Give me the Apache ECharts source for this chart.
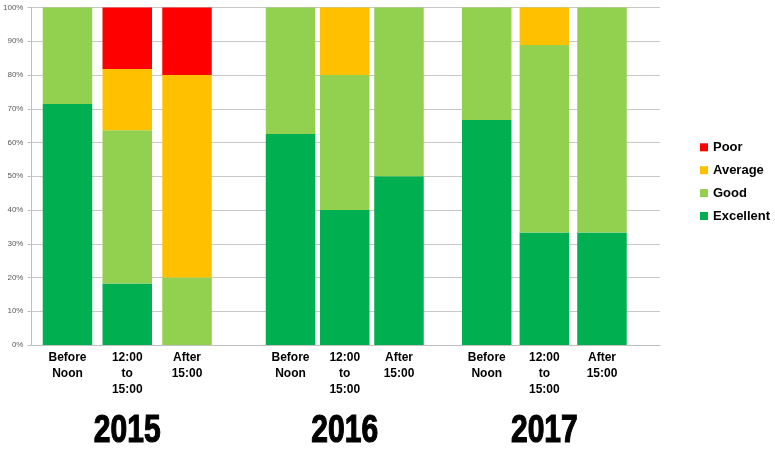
<!DOCTYPE html>
<html>
<head>
<meta charset="utf-8">
<script src="https://cdn.jsdelivr.net/npm/echarts@6/dist/echarts.min.js"></script>
<style>
html,body{margin:0;padding:0;background:#fff;}
#chart{width:775px;height:453px;}
</style>
</head>
<body>
<div id="chart"></div>
<script>
var years = ['2015', '2016', '2017'];
var categories = ['Before\nNoon', '12:00\nto\n15:00', 'After\n15:00'];
// values per year: [Before Noon, 12:00-15:00, After 15:00] for 2015, 2016, 2017
var excellent = [71.4, 18.2, 0,    62.5, 40, 50,   66.7, 33.3, 33.3];
var good      = [28.6, 45.4, 20,   37.5, 40, 50,   33.3, 55.6, 66.7];
var average   = [0,    18.2, 60,   0,    20, 0,    0,    11.1, 0];
var poor      = [0,    18.2, 20,   0,    0,  0,    0,    0,    0];
var yTicks = [0, 10, 20, 30, 40, 50, 60, 70, 80, 90, 100];

var font = "'Liberation Sans', Arial, sans-serif";
var chart = echarts.init(document.getElementById('chart'), null, {renderer: 'canvas'});

var groupGrids = [
  {left: 37.6, right: 558.1, top: 7.5, bottom: 108},
  {left: 263.4, right: 348.9, top: 7.5, bottom: 108},
  {left: 457.9, right: 144.2, top: 7.5, bottom: 108}
];
var grids = [{left: 30, right: 115, top: 7.5, bottom: 108}].concat(groupGrids);
var xAxes = [{gridIndex: 0, type: 'value', min: 0, max: 1,
  axisLine: {show: true, lineStyle: {color: '#c0c0c0'}},
  axisTick: {show: false}, axisLabel: {show: false}, splitLine: {show: false}}];
var yAxes = [{gridIndex: 0, type: 'value', min: 0, max: 100, interval: 10,
  axisLine: {show: true, lineStyle: {color: '#c0c0c0'}},
  axisTick: {show: true, length: 4, lineStyle: {color: '#c0c0c0'}},
  axisLabel: {formatter: function(v){ return yTicks.indexOf(v) >= 0 ? v + '%' : ''; }, fontSize: 8, margin: 8, color: '#595959', fontFamily: font},
  splitLine: {show: true, lineStyle: {color: '#c8c8c8'}}}];
var series = [];
var seriesDefs = [['Excellent', excellent, '#00B050'], ['Good', good, '#92D050'], ['Average', average, '#FFC000'], ['Poor', poor, '#FF0000']];
years.forEach(function(yr, g) {
  var gi = g + 1;
  xAxes.push({gridIndex: gi, type: 'category', data: categories,
    axisLine: {show: false}, axisTick: {show: false},
    axisLabel: {interval: 0, margin: 5, fontFamily: font, fontWeight: 'bold', fontSize: 12, lineHeight: 16, color: '#000'}});
  yAxes.push({gridIndex: gi, type: 'value', min: 0, max: 100, show: false, splitLine: {show: false}});
  seriesDefs.forEach(function(d) {
    series.push({name: d[0], type: 'bar', stack: 'y' + g, data: d[1].slice(g * 3, g * 3 + 3),
      xAxisIndex: gi, yAxisIndex: gi, barWidth: 49.5,
      itemStyle: {color: d[2]}, emphasis: {disabled: true}});
  });
});

chart.setOption({
  animation: false,
  backgroundColor: '#fff',
  grid: grids,
  legend: {
    orient: 'vertical', left: 700, top: 140.3, padding: 0, itemWidth: 8, itemHeight: 8, itemGap: 8.9,
    data: ['Poor', 'Average', 'Good', 'Excellent'],
    textStyle: {fontFamily: font, fontWeight: 'bold', fontSize: 13, lineHeight: 14, color: '#000'},
    icon: 'rect'
  },
  xAxis: xAxes,
  yAxis: yAxes,
  series: series
});

// Year captions centred under the middle category of each group (position from the axis scale)
var gfx = years.map(function(yr, g) {
  var px = chart.convertToPixel({xAxisIndex: g + 1}, categories[1]);
  return {type: 'text', x: px, y: 431, scaleX: 0.77,
    style: {text: yr, font: 'bold 39px ' + font, fill: '#000', stroke: '#000', lineWidth: 1.2,
      textAlign: 'center', textVerticalAlign: 'middle'}};
});
chart.setOption({graphic: gfx});
</script>
</body>
</html>
